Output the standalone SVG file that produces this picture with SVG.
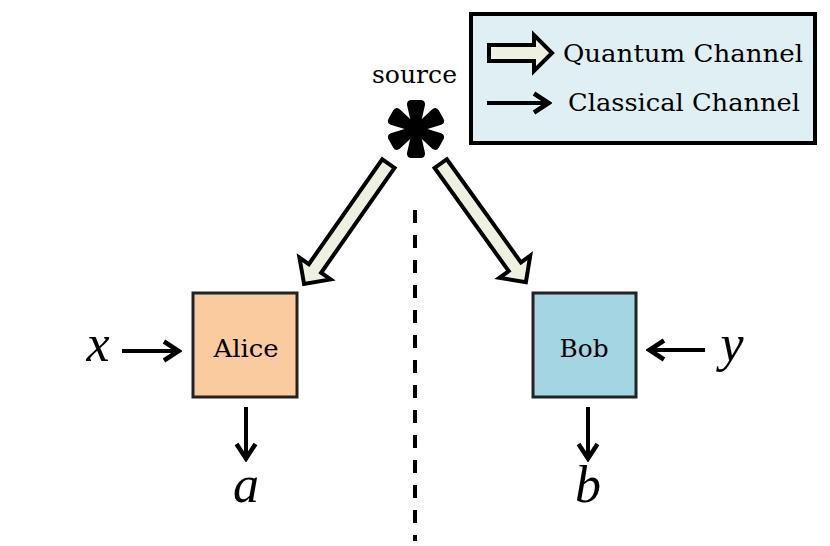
<svg xmlns="http://www.w3.org/2000/svg" width="830" height="546" viewBox="0 0 830 546">
<defs>
<style>
.lbl{font-family:"DejaVu Serif","Liberation Serif",serif;fill:#000}
.math{font-family:"Liberation Serif","DejaVu Serif",serif;font-style:italic;font-size:52px;fill:#000}
.q{fill:#eef1e2;stroke:#000;stroke-width:4;stroke-linejoin:miter}
.c{stroke:#000;stroke-width:4;fill:none;marker-end:url(#chev)}
.box{stroke:#222;stroke-width:3}
</style>
<marker id="chev" viewBox="-20 -12 22 24" markerWidth="22" markerHeight="24" refX="0" refY="0" orient="auto" markerUnits="userSpaceOnUse">
<path d="M-16,-9.5 L-1.5,0 L-16,9.5" fill="none" stroke="#000" stroke-width="4.5"/>
</marker>
</defs>
<rect width="830" height="546" fill="#fff"/>

<g id="legend">
<rect x="471" y="14" width="344" height="129" fill="#e0eff4" stroke="#000" stroke-width="4"/>
<path class="q" d="M0,-8 H45 V-18 L63,0 L45,18 V8 H0 Z" transform="translate(489,53)"/>
<text class="lbl" x="563" y="62" font-size="24" textLength="240" lengthAdjust="spacingAndGlyphs">Quantum Channel</text>
<line class="c" x1="487" y1="103" x2="550" y2="103"/>
<text class="lbl" x="568" y="111" font-size="24" textLength="232" lengthAdjust="spacingAndGlyphs">Classical Channel</text>
</g>

<g id="source">
<text class="lbl" x="372" y="83" font-size="25" textLength="85" lengthAdjust="spacingAndGlyphs">source</text>
<g transform="translate(416,129)" fill="#000">
<path id="petal" d="M-3.5,0 L-9,-24 Q-9.3,-29 -4.5,-29 L4.5,-29 Q9.3,-29 9,-24 L3.5,0 Z"/>
<use href="#petal" transform="rotate(60)"/>
<use href="#petal" transform="rotate(120)"/>
<use href="#petal" transform="rotate(180)"/>
<use href="#petal" transform="rotate(240)"/>
<use href="#petal" transform="rotate(300)"/>
<circle r="5"/>
</g>
</g>

<g id="divider">
<line x1="415" y1="210" x2="415" y2="541" stroke="#000" stroke-width="4" stroke-dasharray="13 12"/>
</g>

<g id="alice">
<rect class="box" x="193" y="293" width="104" height="104" fill="#fbcba0"/>
<text class="lbl" x="246" y="357" font-size="24" text-anchor="middle" textLength="65" lengthAdjust="spacingAndGlyphs">Alice</text>
</g>

<g id="bob">
<rect class="box" x="533" y="293" width="103" height="104" fill="#a3d5e3"/>
<text class="lbl" x="584" y="357" font-size="24" text-anchor="middle" textLength="49" lengthAdjust="spacingAndGlyphs">Bob</text>
</g>

<g id="labels">
<text class="math" x="98" y="361" text-anchor="middle">x</text>
<text class="math" x="246" y="502" text-anchor="middle">a</text>
<text class="math" x="732" y="361" text-anchor="middle">y</text>
<text class="math" x="588" y="502" text-anchor="middle">b</text>
</g>

<g id="connectors">
<path class="q" d="M0,-7.5 H128 V-19 L147,0 L128,19 V7.5 H0 Z" transform="translate(388.4,163.6) rotate(125)"/>
<path class="q" d="M0,-7.5 H127 V-19 L146,0 L127,19 V7.5 H0 Z" transform="translate(440.7,163.6) rotate(54.3)"/>
<line class="c" x1="122" y1="351" x2="180" y2="351"/>
<line class="c" x1="705" y1="350" x2="648" y2="350"/>
<line class="c" x1="246" y1="407" x2="246" y2="460"/>
<line class="c" x1="588" y1="407" x2="588" y2="460"/>
</g>
</svg>
